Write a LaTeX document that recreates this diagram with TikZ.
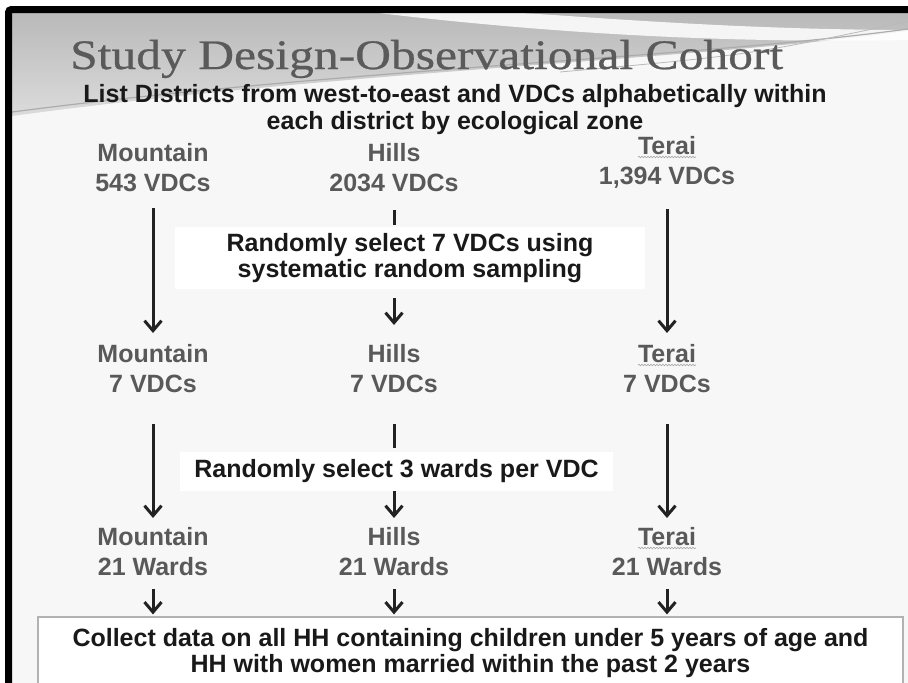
\documentclass[tikz,border=0pt]{standalone}
\usepackage{fontspec}
\setmainfont{Liberation Sans}
\newfontfamily\titlefont{Liberation Serif}[FakeStretch=1.18,FakeBold=0.6]
\usetikzlibrary{arrows.meta,calc,decorations.pathmorphing}

\definecolor{labelgray}{HTML}{595959}
\definecolor{arrowgray}{HTML}{222222}
\definecolor{titlegray}{HTML}{5A5A5A}
\definecolor{slidebg}{HTML}{F7F7F7}

\tikzset{
	zone/.style={anchor=north, inner sep=0pt, align=center, text=labelgray,
		font=\fontsize{25}{30}\selectfont\bfseries},
	selbox/.style={fill=white, inner sep=0pt, align=center, text=black!90,
		font=\fontsize{25}{26}\selectfont\bfseries},
	flow/.style={draw=arrowgray, line width=3pt,
		-{Straight Barb[length=10pt,width=17pt]}},
	tickline/.style={draw=arrowgray, line width=3pt},
	squiggle/.style={draw=gray!70, line width=0.6pt, decorate,
		decoration={snake, amplitude=0.8pt, segment length=3pt}}
}

\begin{document}
\begin{tikzpicture}[x=1pt,y=-1pt]
		\useasboundingbox (0,0) rectangle (908,683);
		\fill[white] (0,0) rectangle (915,690);
		
		% slide background
		\fill[slidebg] (12,12) rectangle (915,690);
		\shade[top color=gray!55, bottom color=gray!28]
		(12,12) -- (915,12) -- (915,30)
		.. controls (700,60) and (350,70) .. (12,116) -- cycle;
		\fill[white, opacity=.85] (370,12)
		.. controls (520,30) and (700,44) .. (915,40) -- (915,30)
		.. controls (720,30) and (560,14) .. (500,12) -- cycle;
		\draw[gray!65, line width=1.2pt] (12,112)
		.. controls (350,68) and (700,58) .. (915,28);
		\draw[gray!55, line width=0.8pt] (560,72)
		.. controls (750,55) .. (915,20);
		
		% frame
		\draw[line width=7pt, rounded corners=3pt] (8.5,690) -- (8.5,9.5) -- (915,9.5);
		
		% title
		\node[anchor=base west, inner sep=0pt, text=titlegray,
		font=\titlefont\fontsize{42}{46}\selectfont] (title) at (70,69)
		{Study Design-Observational Cohort};
		\node[anchor=north, inner sep=0pt, align=center, text=black!90,
		font=\fontsize{25}{27}\selectfont\bfseries] (subtitle) at (455,84)
		{List Districts from west-to-east and VDCs alphabetically within\\
			each district by ecological zone};
		
		% zones
		\node[zone] (m1) at (153,143) {Mountain\\543 VDCs};
		\node[zone] (h1) at (394,143) {Hills\\2034 VDCs};
		\node[zone] (t1) at (667,136) {Terai\\1,394 VDCs};
		
		\node[zone] (m2) at (153,344) {Mountain\\7 VDCs};
		\node[zone] (h2) at (394,344) {Hills\\7 VDCs};
		\node[zone] (t2) at (667,344) {Terai\\7 VDCs};
		
		\node[zone] (m3) at (153,527) {Mountain\\21 Wards};
		\node[zone] (h3) at (394,527) {Hills\\21 Wards};
		\node[zone] (t3) at (667,527) {Terai\\21 Wards};
		
		% spell check marks
		\foreach \t in {t1,t2,t3}
		\draw[squiggle] ($(\t.north)+(-29,21)$) -- ($(\t.north)+(29,21)$);
		
		% sampling steps
		\node[selbox, minimum width=470pt, minimum height=62pt] (sel7) at (410,258)
		{Randomly select 7 VDCs using\\systematic random sampling};
		\node[selbox, minimum width=433pt, minimum height=39pt] (sel3) at (396.5,471.5)
		{Randomly select 3 wards per VDC};
		\node[selbox, draw=gray!60, line width=1.2pt, minimum width=865pt,
		minimum height=73pt] (collect) at (470.5,653.5)
		{Collect data on all HH containing children under 5 years of age and\\
			HH with women married within the past 2 years};
		
		% arrows
		\draw[flow, shorten <=16pt, shorten >=11pt] (m1) -- (m2);
		\draw[flow, shorten <=21pt, shorten >=11pt] (t1) -- (t2);
		\draw[tickline, shorten <=18pt, shorten >=2pt] (h1) -- (h1 |- sel7.north);
		\draw[flow, shorten <=9pt, shorten >=19pt] (sel7.south -| h2) -- (h2);
		
		\draw[flow, shorten <=31pt, shorten >=9pt] (m2) -- (m3);
		\draw[flow, shorten <=31pt, shorten >=9pt] (t2) -- (t3);
		\draw[tickline, shorten <=31pt, shorten >=4pt] (h2) -- (h2 |- sel3.north);
		\draw[flow, shorten >=9pt] (sel3.south -| h3) -- (h3);
		
		\foreach \z in {m3,h3,t3}
		\draw[flow, shorten <=13pt, shorten >=2pt] (\z) -- (\z |- collect.north);
	\end{tikzpicture}
\end{document}
